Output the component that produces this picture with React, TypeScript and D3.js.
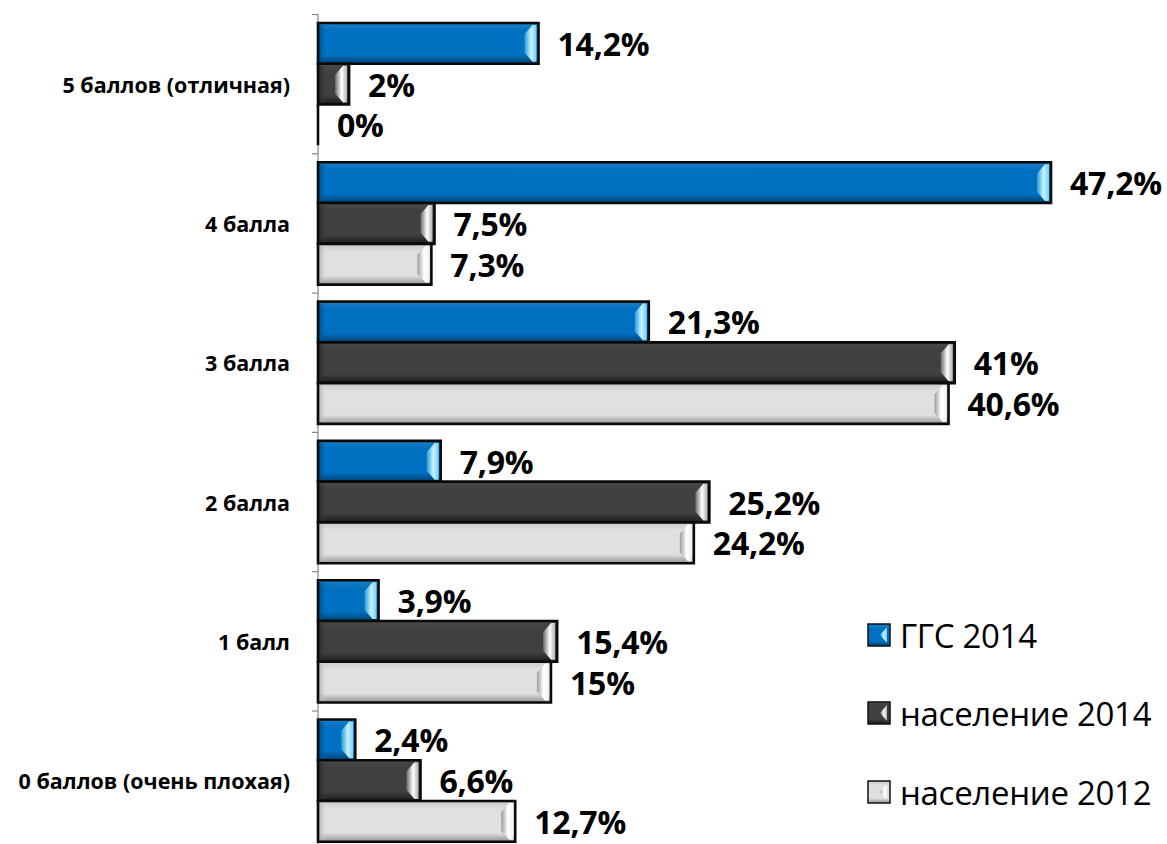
import React from "react";
import * as d3 from "d3";

const categories = [
  "5 баллов (отличная)",
  "4 балла",
  "3 балла",
  "2 балла",
  "1 балл",
  "0 баллов (очень плохая)",
];
const seriesNames = ["ГГС 2014", "население 2014", "население 2012"];
const ggs2014 = [14.2, 47.2, 21.3, 7.9, 3.9, 2.4];
const pop2014 = [2, 7.5, 41, 25.2, 15.4, 6.6];
const pop2012 = [0, 7.3, 40.6, 24.2, 15, 12.7];
const seriesValues = [ggs2014, pop2014, pop2012];

const W = 1167;
const H = 844;
const FONT = "'Open Sans', 'DejaVu Sans', sans-serif";

const palettes = [
  { base: "#0070C0", top: "#1f7fc8", bottom: "#003f70", left: "#003f70", hl0: "#2a9ad8", hl1: "#c8f2ff", hl2: "#6fcfff" },
  { base: "#404040", top: "#4a4a4a", bottom: "#1a1a1a", left: "#222222", hl0: "#6a6a6a", hl1: "#ffffff", hl2: "#b0b0b0" },
  { base: "#e0e0e0", top: "#c8c8c8", bottom: "#929292", left: "#a0a0a0", hl0: "#9a9a9a", hl1: "#ffffff", hl2: "#f2f2f2" },
];

const fmt = (v: number) => String(v).replace(".", ",") + "%";

export default function App() {
  const x = d3.scaleLinear().domain([0, 50]).range([318, 1094.5]);
  const y = d3.scaleBand<string>().domain(categories).range([14.5, 14.5 + 6 * 139.3]).padding(0);
  const inner = d3
    .scaleBand<string>()
    .domain(seriesNames)
    .range([8.5, y.bandwidth() - 8.5])
    .padding(0);
  const bh = inner.bandwidth();

  const bars: any[] = [];
  seriesNames.forEach((s, si) => {
    categories.forEach((c, ci) => {
      const v = seriesValues[si][ci];
      const x0 = x(0);
      const x1 = x(v);
      const y0 = (y(c) as number) + (inner(s) as number);
      const y1 = y0 + bh;
      bars.push({ s, si, c, ci, v, x0, x1, y0, y1 });
    });
  });

  const ticks = d3.range(categories.length + 1).map((i) => 14.5 + i * y.step());

  return (
    <svg width={W} height={H} style={{ position: "absolute", left: 0, top: 0 }}>
      <defs>
        {palettes.map((p, i) => (
          <React.Fragment key={i}>
            <linearGradient id={`v${i}`} x1="0" y1="0" x2="0" y2="1">
              <stop offset="0" stopColor={p.top} />
              <stop offset="0.2" stopColor={p.base} />
              <stop offset="0.78" stopColor={p.base} />
              <stop offset="1" stopColor={p.bottom} />
            </linearGradient>
            <linearGradient id={`h${i}`} x1="0" y1="0" x2="1" y2="0">
              <stop offset="0" stopColor={p.hl0} />
              <stop offset="0.55" stopColor={p.hl1} />
              <stop offset="1" stopColor={p.hl2} />
            </linearGradient>
            <linearGradient id={`l${i}`} x1="0" y1="0" x2="1" y2="0">
              <stop offset="0" stopColor={p.left} stopOpacity="0.9" />
              <stop offset="1" stopColor={p.base} stopOpacity="0" />
            </linearGradient>
          </React.Fragment>
        ))}
      </defs>
      <rect width={W} height={H} fill="#fff" />

      {/* axis */}
      <line x1={318} x2={318} y1={ticks[0]} y2={ticks[ticks.length - 1]} stroke="#868686" strokeWidth={1.2} />
      {ticks.map((t, i) => (
        <line key={i} x1={312} x2={318} y1={t} y2={t} stroke="#868686" strokeWidth={1.2} />
      ))}

      {/* bars */}
      {bars.map((b, i) => {
        const w = b.x1 - b.x0;
        const p = b.si;
        const e = Math.min(14, w / 2);
        const t = Math.min(6, w / 2);
        return (
          <g key={i}>
            {w > 0 && (
              <>
                <rect x={b.x0} y={b.y0} width={w} height={bh} fill={`url(#v${p})`} />
                <rect x={b.x0} y={b.y0 + 2} width={Math.min(9, w / 2)} height={bh - 4} fill={`url(#l${p})`} />
                <polygon
                  points={[
                    [b.x1 - 2, b.y0 + 2],
                    [b.x1 - 2, b.y1 - 2],
                    [b.x1 - t, b.y1 - 2],
                    [b.x1 - e, b.y1 - 11],
                    [b.x1 - e, b.y0 + 11],
                    [b.x1 - t, b.y0 + 2],
                  ]
                    .map((q) => q.join(","))
                    .join(" ")}
                  fill={`url(#h${p})`}
                />
              </>
            )}
            <path
              d={`M${b.x0},${b.y0}H${b.x1}V${b.y1}H${b.x0}Z`}
              fill="none"
              stroke="#0a0a0a"
              strokeWidth={2.6}
            />
            <text
              x={b.x1 + 19}
              y={(b.y0 + b.y1) / 2}
              dominantBaseline="central"
              fontFamily={FONT}
              fontWeight="bold"
              fontSize={32}
              letterSpacing={-0.2}
              fill="#000"
            >
              {fmt(b.v)}
            </text>
          </g>
        );
      })}

      {/* category labels */}
      {categories.map((c) => (
        <text
          key={c}
          x={290}
          y={(y(c) as number) + y.bandwidth() / 2}
          textAnchor="end"
          dominantBaseline="central"
          fontFamily={FONT}
          fontWeight="bold"
          fontSize={21.5}
          fill="#000"
        >
          {c}
        </text>
      ))}

      {/* legend */}
      {seriesNames.map((s, i) => {
        const cy = [635, 713, 792][i];
        const sz = 22;
        const lx = 868;
        const ly = cy - sz / 2;
        return (
          <g key={s}>
            <rect x={lx} y={ly} width={sz} height={sz} fill={`url(#v${i})`} stroke="#111" strokeWidth={1.5} />
            <polygon
              points={[
                [lx + sz - 3, ly + 3],
                [lx + sz - 3, ly + sz - 3],
                [lx + sz - 10, cy],
              ]
                .map((q) => q.join(","))
                .join(" ")}
              fill={`url(#h${i})`}
            />
            <text x={900} y={cy} dominantBaseline="central" fontFamily={FONT} fontSize={33} letterSpacing={-0.3} fill="#000">
              {s}
            </text>
          </g>
        );
      })}
    </svg>
  );
}
